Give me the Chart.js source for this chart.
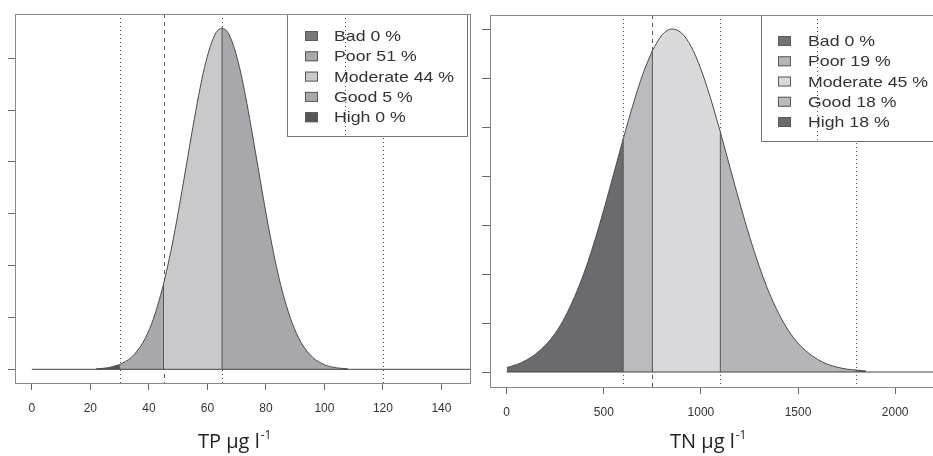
<!DOCTYPE html>
<html lang="en">
<head>
<meta charset="UTF-8">
<title>TP / TN status distributions</title>
<script src="https://cdn.jsdelivr.net/npm/chart.js"></script>
<style>
  html, body { margin: 0; padding: 0; background: #fff; }
  .panel { position: absolute; top: 0; height: 456px; }
  #tpBox { left: 0; width: 471px; }
  #tnBox { left: 470px; width: 463px; }
</style>
</head>
<body>
<div class="panel" id="tpBox"><canvas id="tp_chart"></canvas></div>
<div class="panel" id="tnBox"><canvas id="tn_chart"></canvas></div>
<script>
// ---- TP (µg/l) density curve ----
const tpX = [22, 26, 30, 34, 38, 41, 43, 45, 47, 49, 51, 53, 55, 57, 59, 61, 63, 65,
             67, 69, 71, 73, 75, 77, 79, 81, 83, 85, 87, 89, 92, 96, 100, 104, 108];
const tpY = [0.01, 0.03, 0.09, 0.23, 0.52, 0.89, 1.23, 1.64, 2.14, 2.71, 3.34, 4.00, 4.66, 5.28, 5.82, 6.23, 6.50, 6.59,
             6.50, 6.23, 5.82, 5.28, 4.66, 4.00, 3.34, 2.71, 2.14, 1.64, 1.23, 0.89, 0.52, 0.23, 0.09, 0.03, 0.01];
const tpBreaks = [30, 45, 65, 120];          // High | Good | Moderate | Poor | Bad
const tpShares = [0, 51, 44, 5, 0];           // Bad, Poor, Moderate, Good, High
const tpTicks = [0, 20, 40, 60, 80, 100, 120, 140];
const tpYTicks = [0, 1, 2, 3, 4, 5, 6];
const tpBase = [0, 150];

// ---- TN (µg/l) density curve ----
const tnX = [0, 50, 100, 150, 200, 250, 300, 350, 400, 450, 500, 550, 600, 650, 700, 750, 800, 850, 900,
             950, 1000, 1050, 1100, 1150, 1200, 1250, 1300, 1350, 1400, 1450, 1500, 1550, 1600, 1650,
             1700, 1750, 1800, 1850];
const tnY = [0.09, 0.15, 0.24, 0.37, 0.55, 0.79, 1.12, 1.54, 2.04, 2.64, 3.31, 4.03, 4.76, 5.45, 6.07, 6.56, 6.88, 7.00, 6.92,
             6.64, 6.18, 5.58, 4.90, 4.17, 3.45, 2.77, 2.16, 1.63, 1.20, 0.85, 0.59, 0.40, 0.26, 0.16,
             0.10, 0.06, 0.04, 0.02];
const tnBreaks = [600, 750, 1100, 1800];
const tnShares = [0, 19, 45, 18, 18];
const tnTicks = [0, 500, 1000, 1500, 2000];
const tnYTicks = [0, 1, 2, 3, 4, 5, 6, 7];
const tnBase = [0, 2300];

const legendNames = ['Bad', 'Poor', 'Moderate', 'Good', 'High'];
const zoneOrder = ['High', 'Good', 'Moderate', 'Poor', 'Bad'];

const tpColours = { Bad: '#78787c', Poor: '#a8a8ac', Moderate: '#c9c9cc', Good: '#a9a9ad', High: '#555559' };
const tnColours = { Bad: '#737377', Poor: '#b5b5b9', Moderate: '#d9d9db', Good: '#bbbbbf', High: '#6b6b6f' };

function buildSets(xs, ys, breaks, colours, base) {
  const edges = [xs[0], ...breaks, xs[xs.length - 1]];
  const sets = [];
  zoneOrder.forEach((name, i) => {
    const lo = edges[i], hi = edges[i + 1];
    const pts = [];
    xs.forEach((x, k) => { if (x >= lo && x <= hi) pts.push({ x: x, y: ys[k] }); });
    if (pts.length < 2) return;
    sets.push({
      data: pts, fill: 'origin', backgroundColor: colours[name],
      borderColor: '#4a4a4a', borderWidth: 1, pointRadius: 0,
      cubicInterpolationMode: 'monotone', order: 3
    });
  });
  // zone edges inside the curve
  breaks.forEach(b => {
    const k = xs.indexOf(b);
    if (k < 0) return;
    sets.push({
      data: [{ x: b, y: 0 }, { x: b, y: ys[k] }], fill: false,
      borderColor: '#555', borderWidth: 1, pointRadius: 0, order: 1
    });
  });
  // zero line under the whole axis
  sets.push({
    data: [{ x: base[0], y: 0 }, { x: base[1], y: 0 }], fill: false,
    borderColor: '#444', borderWidth: 1, pointRadius: 0, order: 2
  });
  return sets;
}

const panelDecor = {
  id: 'panelDecor',
  beforeDatasetsDraw(chart, args, o) {
    const { ctx, chartArea: a, scales: { x } } = chart;
    ctx.save();
    ctx.strokeStyle = '#555';
    ctx.lineWidth = 1;
    o.lines.forEach(l => {
      const px = Math.round(x.getPixelForValue(l.x)) + 0.5;
      ctx.setLineDash(l.dash === 'dash' ? [4, 4] : [1, 3]);
      ctx.beginPath();
      ctx.moveTo(px, a.top);
      ctx.lineTo(px, a.bottom);
      ctx.stroke();
    });
    ctx.restore();
  },
  afterDatasetsDraw(chart, args, o) {
    const { ctx, chartArea: a, scales: { x } } = chart;
    const L = o.legend;
    ctx.save();
    ctx.fillStyle = '#fff';
    ctx.fillRect(L.left, L.top, L.width, L.height);
    ctx.strokeStyle = '#777';
    ctx.lineWidth = 1;
    ctx.strokeRect(L.left + 0.5, L.top + 0.5, L.width, L.height);
    ctx.font = '15px "Liberation Sans"';
    ctx.textBaseline = 'middle';
    legendNames.forEach((name, i) => {
      const cy = L.top + L.rowTop + i * L.rowGap;
      ctx.fillStyle = o.colours[name];
      ctx.fillRect(L.left + L.swatchX, cy - 5, 13, 10);
      ctx.strokeStyle = '#5a5a5a';
      ctx.strokeRect(L.left + L.swatchX + 0.5, cy - 4.5, 12, 9);
      ctx.save();
      ctx.translate(L.left + L.textX, cy + 1);
      ctx.scale(1.18, 1);
      ctx.fillStyle = '#333';
      ctx.fillText(name + ' ' + o.shares[i] + ' %', 0, 0);
      ctx.restore();
    });
    // short dotted mark running through the legend box
    ctx.strokeStyle = '#555';
    ctx.setLineDash([1, 3]);
    const px = Math.round(x.getPixelForValue(o.cut)) + 0.5;
    ctx.beginPath();
    ctx.moveTo(px, a.top);
    ctx.lineTo(px, L.top + L.height);
    ctx.stroke();
    ctx.restore();
  },
  afterDraw(chart, args, o) {
    const { ctx, chartArea: a } = chart;
    ctx.save();
    ctx.strokeStyle = '#888';
    ctx.lineWidth = 1;
    ctx.strokeRect(a.left + 0.5, a.top + 0.5, a.right - a.left, a.bottom - a.top);
    // axis title with superscript
    const t = o.title;
    ctx.fillStyle = '#222';
    ctx.textBaseline = 'alphabetic';
    ctx.font = '20px "Open Sans"';
    ctx.fillText(t.main, t.x, t.y);
    const w = ctx.measureText(t.main).width;
    ctx.font = '12px "Open Sans"';
    ctx.fillText(t.sup, t.x + w + 1, t.y - 9);
    ctx.restore();
  }
};

function makeChart(id, cfg) {
  return new Chart(id, {
    type: 'line',
    data: { datasets: buildSets(cfg.xs, cfg.ys, cfg.breaks, cfg.colours, cfg.base) },
    options: {
      responsive: true,
      maintainAspectRatio: false,
      animation: false,
      layout: { padding: { top: cfg.padTop, right: cfg.padRight, left: 0, bottom: 0 } },
      scales: {
        x: {
          type: 'linear',
          min: cfg.xMin, max: cfg.xMax,
          afterBuildTicks: s => { s.ticks = cfg.ticks.map(v => ({ value: v })); },
          afterFit: s => { s.height = cfg.xHeight; },
          ticks: {
            callback: v => String(v), autoSkip: false, maxRotation: 0,
            color: '#333', padding: 11, font: { family: 'Liberation Sans', size: 12 }
          },
          grid: { drawOnChartArea: false, drawTicks: true, tickLength: 7, color: '#666' },
          border: { display: false }
        },
        y: {
          min: cfg.yMin, max: cfg.yMax,
          afterBuildTicks: s => { s.ticks = cfg.yTicks.map(v => ({ value: v })); },
          afterFit: s => { s.width = cfg.yWidth; },
          ticks: { display: false },
          grid: { drawOnChartArea: false, drawTicks: true, tickLength: cfg.yTick, color: '#666' },
          border: { display: false }
        }
      },
      plugins: {
        legend: { display: false },
        tooltip: { enabled: false },
        panelDecor: {
          lines: cfg.lines, cut: cfg.cut, legend: cfg.legend,
          colours: cfg.colours, shares: cfg.shares, title: cfg.title
        }
      }
    },
    plugins: [panelDecor]
  });
}

makeChart('tp_chart', {
  xs: tpX, ys: tpY, breaks: tpBreaks, colours: tpColours, base: tpBase, shares: tpShares,
  ticks: tpTicks, yTicks: tpYTicks,
  xMin: -5.76, xMax: 149.76, yMin: -0.264, yMax: 6.855,
  padTop: 14, padRight: 1, xHeight: 73, yWidth: 15, yTick: 7,
  lines: [{ x: 30 }, { x: 45, dash: 'dash' }, { x: 65 }, { x: 120 }],
  cut: 107,
  legend: { left: 287, top: 14, width: 180, height: 122, swatchX: 18, textX: 47, rowTop: 22, rowGap: 20.3 },
  title: { main: 'TP μg l', sup: '-1', x: 198, y: 448 }
});

makeChart('tn_chart', {
  xs: tnX, ys: tnY, breaks: tnBreaks, colours: tnColours, base: tnBase, shares: tnShares,
  ticks: tnTicks, yTicks: tnYTicks,
  xMin: -86, xMax: 2195, yMin: -0.306, yMax: 7.286,
  padTop: 15, padRight: 0, xHeight: 69, yWidth: 20, yTick: 8,
  lines: [{ x: 600 }, { x: 750, dash: 'dash' }, { x: 1100 }, { x: 1800 }],
  cut: 1600,
  legend: { left: 291, top: 15, width: 190, height: 126, swatchX: 17, textX: 47, rowTop: 26, rowGap: 20.25 },
  title: { main: 'TN μg l', sup: '-1', x: 200, y: 448 }
});
</script>
</body>
</html>
